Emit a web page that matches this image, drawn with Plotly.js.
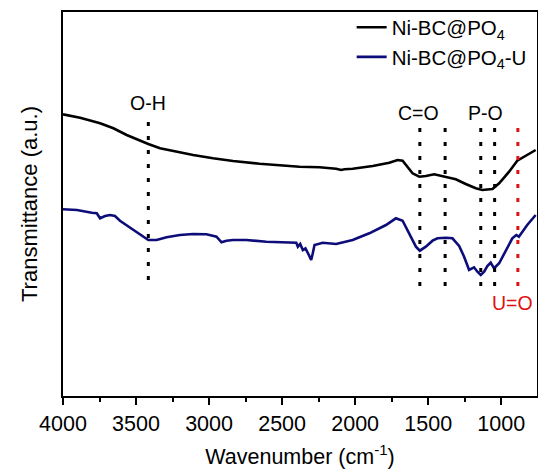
<!DOCTYPE html>
<html>
<head>
<meta charset="utf-8">
<script src="https://cdn.plot.ly/plotly-3.0.1.min.js"></script>
<style>
  html, body { margin: 0; padding: 0; background: #fff; }
  #chart { width: 538px; height: 469px; }
</style>
</head>
<body>
<div id="chart"></div>
<script>
// FTIR spectra, transmittance in arbitrary units
const wnPO4 = [4000, 3883, 3746, 3655, 3564, 3473, 3416, 3336, 3222, 3109, 2973, 2836, 2654, 2471, 2381, 2244, 2130, 2096, 2073, 2017, 1880, 1766, 1710, 1675, 1641, 1607, 1561, 1516, 1459, 1402, 1367, 1311, 1243, 1174, 1129, 1060, 1014, 946, 890, 832, 764];
const tPO4 = [281.7, 278.3, 272.7, 267.7, 261, 255, 252, 247.7, 244, 241, 237.7, 235, 232.3, 230, 229.3, 228.7, 227.3, 226, 226.7, 227.3, 230, 233.3, 236, 235.3, 229.3, 222.7, 219.3, 220, 221.7, 220, 218.7, 216.7, 212, 207.7, 206, 207, 212.7, 224.3, 235.3, 240, 246];

const wnPO4U = [4000, 3905, 3803, 3769, 3746, 3712, 3678, 3644, 3610, 3541, 3473, 3416, 3359, 3291, 3200, 3109, 3018, 2949, 2915, 2881, 2836, 2745, 2608, 2471, 2403, 2392, 2376, 2358, 2340, 2317, 2301, 2290, 2278, 2222, 2130, 2017, 1903, 1789, 1721, 1675, 1630, 1584, 1557, 1516, 1470, 1436, 1379, 1334, 1288, 1254, 1220, 1186, 1163, 1140, 1117, 1095, 1072, 1049, 1014, 969, 924, 897, 879, 822, 764];
const tPO4U = [186.7, 186, 183.3, 182.7, 177.7, 180, 181, 180, 175.3, 168.7, 162, 156, 156, 158.7, 161, 162, 161.7, 159.3, 153.7, 155.3, 156, 156, 154.3, 153.7, 153.3, 149.3, 152, 146, 147.7, 141, 136, 142.7, 151, 153.3, 152, 156, 162.7, 171, 177.7, 175.3, 162.7, 149.3, 145.3, 149.3, 155.3, 157.7, 158.3, 157.7, 150, 139.3, 126, 128.7, 124.3, 121, 124.3, 130, 133.3, 127.7, 132.7, 146, 157.7, 161, 159.3, 171, 181];

const seriesNames = ['Ni-BC@PO<sub>4</sub>', 'Ni-BC@PO<sub>4</sub>-U'];

// band assignments: marker positions (cm-1) and their labels
const bandOH = [3416];
const bandCO = [1557, 1384];
const bandPO = [1140, 1045];
const bandUO = [886];
const bandLabels = ['O-H', 'C=O', 'P-O', 'U=O'];
const bandLabelX = [3416, 1568, 1111, 922];
const bandLabelY = [293, 283, 283, 93];

const xTickVals = [4000, 3500, 3000, 2500, 2000, 1500, 1000];

const FONT = 'Liberation Sans, Arial, Helvetica, sans-serif';

const traces = [
  { x: wnPO4, y: tPO4, name: seriesNames[0], mode: 'lines',
    line: { color: '#000000', width: 2.6 } },
  { x: wnPO4U, y: tPO4U, name: seriesNames[1], mode: 'lines',
    line: { color: '#0d0d7a', width: 2.6 } }
];

function bandLine(xv, yTop, yBot, color) {
  return { x: [xv, xv], y: [yTop, yBot], mode: 'lines', showlegend: false,
    hoverinfo: 'skip', line: { color: color, width: 3, dash: '4px,10px' } };
}
bandOH.forEach(v => traces.push(bandLine(v, 274, 114, '#000000')));
bandCO.concat(bandPO).forEach(v => traces.push(bandLine(v, 268, 108, '#000000')));
bandUO.forEach(v => traces.push(bandLine(v, 268, 105, '#e01010')));

const annotations = bandLabels.map((t, i) => ({
  x: bandLabelX[i], y: bandLabelY[i], xref: 'x', yref: 'y', text: t,
  showarrow: false, xanchor: 'center', yanchor: 'middle',
  font: { family: FONT, size: 19.5, color: t === 'U=O' ? '#e01010' : '#000000' }
}));

const layout = {
  width: 538, height: 469,
  margin: { l: 63, r: 1, t: 12, b: 73 },
  paper_bgcolor: '#ffffff', plot_bgcolor: '#ffffff',
  font: { family: FONT, size: 20, color: '#000000' },
  showlegend: true,
  legend: { x: 0.609, y: 1.012, xanchor: 'left', yanchor: 'top',
    bgcolor: 'rgba(0,0,0,0)', borderwidth: 0, itemwidth: 30,
    font: { family: FONT, size: 20.5, color: '#000' }, tracegroupgap: 0 },
  xaxis: {
    range: [4000, 755], autorange: false,
    tickvals: xTickVals, ticktext: xTickVals.map(String),
    ticks: 'outside', ticklen: 7, tickwidth: 2, tickcolor: '#000',
    minor: { dtick: 250, ticks: 'outside', ticklen: 4, tickwidth: 2, tickcolor: '#000' },
    showline: true, linewidth: 2, linecolor: '#000', mirror: true,
    showgrid: false, zeroline: false,
    tickfont: { family: FONT, size: 21.5, color: '#000' },
    title: { text: 'Wavenumber (cm<sup>-1</sup>)', standoff: 16,
      font: { family: FONT, size: 21.5, color: '#000' } }
  },
  yaxis: {
    range: [0, 384], autorange: false,
    showticklabels: false, ticks: '',
    showline: true, linewidth: 2, linecolor: '#000', mirror: true,
    showgrid: false, zeroline: false,
    title: { text: 'Transmittance (a.u.)', standoff: 17,
      font: { family: FONT, size: 22, color: '#000' } }
  },
  annotations: annotations
};

Plotly.newPlot('chart', traces, layout, { displayModeBar: false, staticPlot: true });
</script>
</body>
</html>
